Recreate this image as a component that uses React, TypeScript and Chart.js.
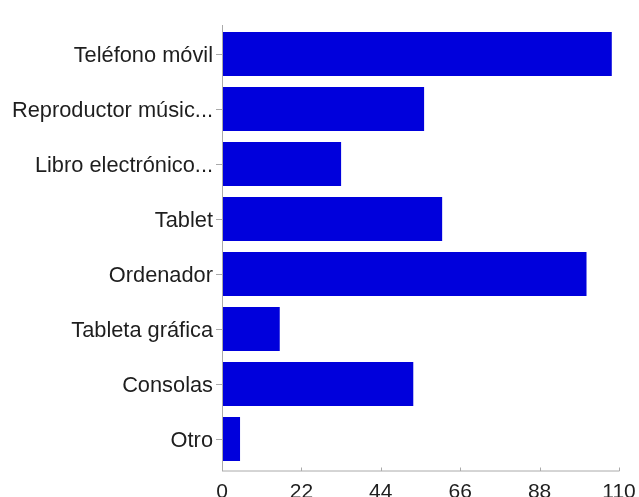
import React, { useEffect, useRef } from "react";
import { Chart, registerables } from "chart.js";

Chart.register(...registerables);

const categories = [
  "Teléfono móvil",
  "Reproductor músic...",
  "Libro electrónico...",
  "Tablet",
  "Ordenador",
  "Tableta gráfica",
  "Consolas",
  "Otro",
];
const values = [108, 56, 33, 61, 101, 16, 53, 5];
const xTicks = [0, 22, 44, 66, 88, 110];

const AXIS_COLOR = "#aaaaaa";
const TEXT_COLOR = "#1e1e1e";
const BAR_COLOR = "#0000dc";

const axisPlugin = {
  id: "customAxes",
  afterDraw(chart: any) {
    const { ctx, chartArea } = chart;
    const xs = chart.scales.x;
    const axisY = chartArea.bottom + 4;
    ctx.save();
    ctx.strokeStyle = AXIS_COLOR;
    ctx.lineWidth = 1;
    ctx.beginPath();
    ctx.moveTo(chartArea.left + 0.5, chartArea.top - 1.5);
    ctx.lineTo(chartArea.left + 0.5, axisY);
    ctx.moveTo(chartArea.left, axisY + 0.5);
    ctx.lineTo(chartArea.right + 0.5, axisY + 0.5);
    xTicks.forEach((t) => {
      const px = Math.round(xs.getPixelForValue(t)) + 0.5;
      ctx.moveTo(px, axisY + 0.5);
      ctx.lineTo(px, axisY - 3);
    });
    ctx.stroke();
    ctx.restore();
  },
};

export default function App() {
  const ref = useRef<HTMLCanvasElement | null>(null);
  useEffect(() => {
    if (!ref.current) return;
    const chart = new Chart(ref.current, {
      type: "bar",
      data: {
        labels: categories,
        datasets: [
          {
            data: values,
            backgroundColor: BAR_COLOR,
            borderWidth: 0,
            categoryPercentage: 1,
            barPercentage: 0.8,
          },
        ],
      },
      options: {
        indexAxis: "y",
        responsive: false,
        maintainAspectRatio: false,
        animation: false,
        layout: { padding: { top: 26.5, right: 20, left: 0, bottom: 0 } },
        plugins: {
          legend: { display: false },
          tooltip: { enabled: false },
          title: { display: false },
        },
        scales: {
          x: {
            type: "linear",
            min: 0,
            max: 110,
            afterBuildTicks: (scale: any) => {
              scale.ticks = xTicks.map((v) => ({ value: v }));
            },
            afterFit: (scale: any) => {
              scale.height = 30.5;
              scale.paddingLeft = 0;
              scale.paddingRight = 0;
            },
            ticks: {
              color: TEXT_COLOR,
              padding: 13.5,
              maxRotation: 0,
              font: { family: "'Liberation Sans', Arial, sans-serif", size: 21 },
            },
            grid: { display: false, drawTicks: false },
            border: { display: false },
          },
          y: {
            afterFit: (scale: any) => {
              scale.width = 222;
              scale.paddingTop = 0;
              scale.paddingBottom = 0;
            },
            ticks: {
              color: TEXT_COLOR,
              padding: 3,
              autoSkip: false,
              labelOffset: 1.5,
              font: { family: "'Liberation Sans', Arial, sans-serif", size: 21.8 },
            },
            grid: {
              drawOnChartArea: false,
              offset: false,
              drawTicks: true,
              tickLength: 6,
              color: AXIS_COLOR,
            },
            border: { display: false },
          },
        },
      },
      plugins: [axisPlugin],
    });
    return () => chart.destroy();
  }, []);
  return (
    <div style={{ position: "absolute", left: 0, top: 0, width: 639, height: 497, background: "#fff" }}>
      <canvas ref={ref} width={639} height={497} style={{ display: "block", width: 639, height: 497 }} />
    </div>
  );
}
